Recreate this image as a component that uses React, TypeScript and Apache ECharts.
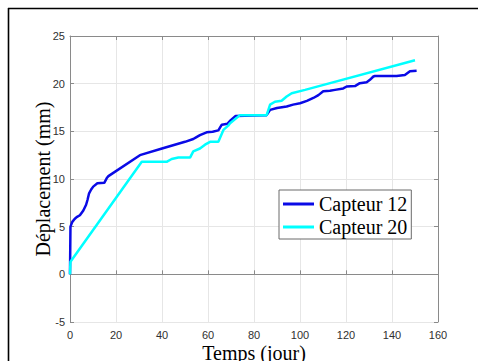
import React, { useEffect, useRef } from "react";
import * as echarts from "echarts";

const xTicks = [0, 20, 40, 60, 80, 100, 120, 140, 160];
const yTicks = [-5, 0, 5, 10, 15, 20, 25];

const capteur12Days = [0, 0.2, 1, 2, 2.9, 4.3, 5.8, 7, 7.6, 8.3, 9.2, 10.1, 11.9, 14.9, 16, 16.7, 30.4, 40, 50, 53.6, 55, 56.5, 59.4, 62, 64.5, 66, 68.5, 70, 72, 80, 85.5, 87, 90, 94.2, 97, 100, 103, 105.8, 108, 110.1, 113, 115.2, 118.8, 120.3, 123.9, 126, 129, 130.4, 131.9, 132.6, 142, 145.6, 147.8, 150.7];
const capteur12Values = [0, 5.0, 5.5, 5.8, 6.0, 6.2, 6.7, 7.3, 7.8, 8.5, 8.9, 9.2, 9.55, 9.6, 10.1, 10.3, 12.5, 13.2, 13.9, 14.2, 14.4, 14.6, 14.9, 14.95, 15.1, 15.7, 15.8, 16.2, 16.6, 16.65, 16.7, 17.25, 17.45, 17.6, 17.8, 17.95, 18.2, 18.5, 18.8, 19.2, 19.25, 19.35, 19.5, 19.7, 19.75, 20.05, 20.15, 20.4, 20.75, 20.8, 20.8, 20.9, 21.3, 21.35];

const capteur20Days = [0, 0.2, 31.2, 42, 44.2, 47.1, 52.2, 53.6, 56.5, 58.7, 60.9, 64.5, 66.7, 68.8, 69.6, 73.9, 85.5, 87, 89.1, 92, 94.2, 96.4, 102.2, 150];
const capteur20Values = [0, 1.33, 11.8, 11.8, 12.1, 12.25, 12.25, 12.9, 13.2, 13.6, 13.9, 13.9, 15.15, 15.6, 15.85, 16.7, 16.7, 17.8, 18.1, 18.2, 18.65, 19.0, 19.35, 22.45];

const seriesNames = ["Capteur 12", "Capteur 20"];
const xLabel = "Temps (jour)";
const yLabel = "Déplacement (mm)";

export default function App() {
  const ref = useRef<HTMLDivElement>(null);
  useEffect(() => {
    document.body.style.margin = "0";
    const chart = echarts.init(ref.current!, null, { renderer: "svg" });
    const pairs = (xs: number[], ys: number[]) => xs.map((x, i) => [x, ys[i]]);
    const axisColor = "#8a8a8a";
    const labelColor = "#303030";
    const gridColor = "#e6e6e6";
    const tickFont = { color: labelColor, fontSize: 11, fontFamily: "Liberation Sans, Arial, sans-serif" };
    chart.setOption({
      animation: false,
      backgroundColor: "#ffffff",
      grid: { left: 70, top: 36, width: 368, height: 286, show: false },
      xAxis: [
        {
          type: "value",
          min: xTicks[0],
          max: xTicks[xTicks.length - 1],
          interval: 20,
          position: "bottom",
          axisLine: { show: true, lineStyle: { color: axisColor, width: 1 } },
          axisTick: { show: true, inside: true, length: 4, lineStyle: { color: axisColor } },
          axisLabel: { ...tickFont, margin: 7 },
          splitLine: { show: true, lineStyle: { color: gridColor, width: 1 } },
        },
        {
          type: "value",
          min: xTicks[0],
          max: xTicks[xTicks.length - 1],
          interval: 20,
          position: "top",
          axisLine: { show: true, onZero: false, lineStyle: { color: axisColor, width: 1 } },
          axisTick: { show: true, inside: true, length: 4, lineStyle: { color: axisColor } },
          axisLabel: { show: false },
          splitLine: { show: false },
        },
      ],
      yAxis: [
        {
          type: "value",
          min: yTicks[0],
          max: yTicks[yTicks.length - 1],
          interval: 5,
          position: "left",
          axisLine: { show: true, onZero: false, lineStyle: { color: axisColor, width: 1 } },
          axisTick: { show: true, inside: true, length: 4, lineStyle: { color: axisColor } },
          axisLabel: { ...tickFont, margin: 5 },
          splitLine: { show: true, lineStyle: { color: gridColor, width: 1 } },
        },
        {
          type: "value",
          min: yTicks[0],
          max: yTicks[yTicks.length - 1],
          interval: 5,
          position: "right",
          axisLine: { show: true, onZero: false, lineStyle: { color: axisColor, width: 1 } },
          axisTick: { show: true, inside: true, length: 4, lineStyle: { color: axisColor } },
          axisLabel: { show: false },
          splitLine: { show: false },
        },
      ],
      legend: {
        orient: "vertical",
        left: 279,
        top: 190,
        padding: [4, 4, 2, 4],
        itemGap: 3,
        itemWidth: 31,
        itemHeight: 3,
        icon: "rect",
        borderColor: "#6a6a6a",
        borderWidth: 1,
        backgroundColor: "#ffffff",
        textStyle: { color: "#000000", fontSize: 20, fontFamily: "Liberation Serif, Times New Roman, serif", lineHeight: 20 },
        data: seriesNames,
      },
      graphic: [
        { type: "line", shape: { x1: 8, y1: 8.5, x2: 478, y2: 8.5 }, style: { stroke: "#000000", lineWidth: 1.6 } },
        { type: "line", shape: { x1: 8.5, y1: 8, x2: 8.5, y2: 361 }, style: { stroke: "#000000", lineWidth: 1.6 } },
        {
          type: "text",
          x: 43,
          y: 179,
          rotation: Math.PI / 2,
          style: {
            text: yLabel,
            fill: "#000000",
            fontSize: 20,
            fontFamily: "Liberation Serif, Times New Roman, serif",
            textAlign: "center",
            textVerticalAlign: "middle",
          },
        },
        {
          type: "text",
          x: 254,
          y: 353,
          style: {
            text: xLabel,
            fill: "#000000",
            fontSize: 20,
            fontFamily: "Liberation Serif, Times New Roman, serif",
            textAlign: "center",
            textVerticalAlign: "middle",
          },
        },
      ],
      series: [
        {
          name: seriesNames[0],
          type: "line",
          xAxisIndex: 0,
          yAxisIndex: 0,
          data: pairs(capteur12Days, capteur12Values),
          symbol: "none",
          lineStyle: { color: "#0a0ae6", width: 2.5 },
          itemStyle: { color: "#0a0ae6" },
        },
        {
          name: seriesNames[1],
          type: "line",
          xAxisIndex: 0,
          yAxisIndex: 0,
          data: pairs(capteur20Days, capteur20Values),
          symbol: "none",
          lineStyle: { color: "#00ffff", width: 2.5 },
          itemStyle: { color: "#00ffff" },
        },
      ],
    });
    return () => chart.dispose();
  }, []);
  return <div ref={ref} style={{ width: 478, height: 361, position: "absolute", left: 0, top: 0 }} />;
}
